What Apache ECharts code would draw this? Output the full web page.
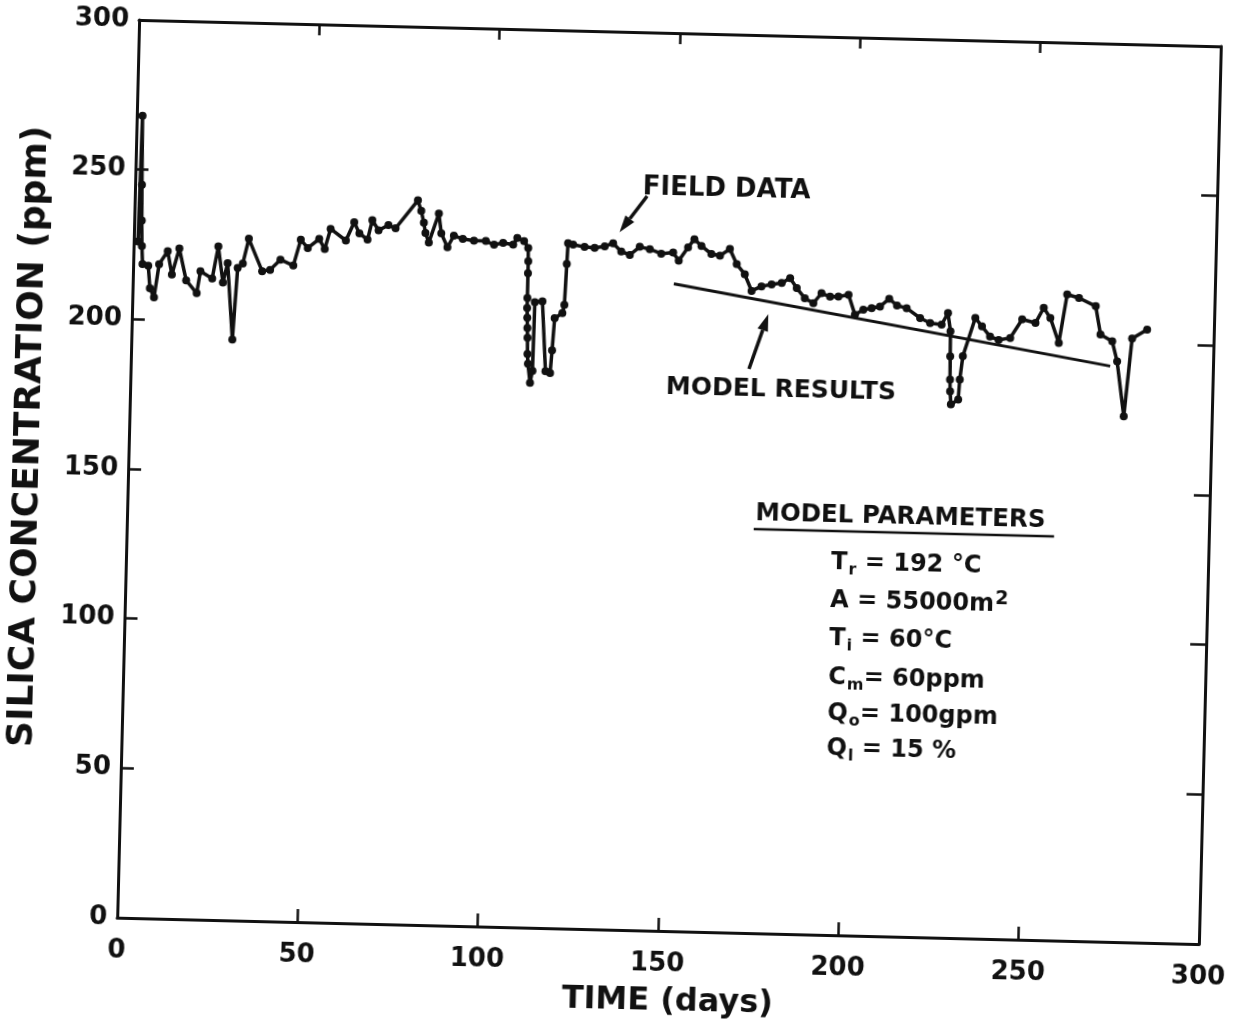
<!DOCTYPE html>
<html>
<head>
<meta charset="utf-8">
<script src="https://cdn.jsdelivr.net/npm/echarts@6/dist/echarts.min.js"></script>
<style>
  html, body { margin: 0; padding: 0; background: #fff; overflow: hidden; width: 1233px; height: 1027px; }
  #chart { width: 1300px; height: 1100px; background: #fff;
           transform: rotate(1.4deg); transform-origin: 669px 482px; }
</style>
</head>
<body>
<div id="chart"></div>
<script>
// Field measurements: time (days) and silica concentration (ppm)
const days = [
  1.2, 1.6, 1.9, 2.1, 2.3, 2.6, 4.2, 4.8, 6.0, 7.2,
  9.5, 10.8, 12.7, 14.8, 17.8, 18.7, 22.0, 23.5, 25.0, 26.2,
  28.0, 29.0, 30.4, 31.9, 35.8, 38.0, 40.8, 44.4, 46.3, 48.3,
  51.4, 53.0, 54.5, 58.8, 61.0, 62.5, 64.8, 66.0, 67.8, 70.5,
  72.5, 78.5, 79.5, 80.3, 80.8, 81.8, 84.4, 85.2, 87.0, 88.7,
  91.2, 94.3, 97.6, 99.9, 102.4, 105.2, 106.3, 108.2, 109.4, 109.5,
  109.5, 109.5, 109.5, 109.6, 109.7, 109.8, 109.9, 110.1, 110.8, 111.4,
  111.6, 113.7, 115.0, 116.3, 116.7, 117.2, 119.3, 119.8, 120.2, 120.4,
  121.8, 125.0, 127.8, 130.6, 132.9, 135.2, 137.6, 140.3, 143.1, 146.3,
  149.6, 151.2, 153.7, 155.4, 157.4, 160.2, 162.6, 165.3, 167.3, 169.6,
  171.6, 174.3, 177.1, 179.9, 182.2, 184.1, 186.4, 188.8, 191.0, 193.4,
  195.7, 198.5, 200.4, 202.7, 205.0, 207.3, 209.8, 212.0, 214.7, 218.5,
  221.3, 224.5, 226.2, 227.0, 227.1, 227.2, 227.3, 227.6, 229.6, 229.9,
  230.6, 233.8, 235.7, 238.0, 240.4, 243.6, 246.8, 250.5, 252.7, 254.6,
  257.1, 259.1, 262.4, 267.1, 268.6, 271.9, 273.4, 275.6, 277.4, 281.5
];
const silica = [
  226, 268, 245, 233, 224.5, 218.5, 218, 210.5, 207.5, 218.6,
  223, 215.2, 224, 213.4, 209.2, 216.6, 214.2, 225, 213, 219.5,
  194, 218, 219.5, 227.8, 217.1, 217.6, 221.1, 219.2, 227.9, 225.2,
  228.3, 225, 231.8, 228, 234.2, 230.5, 228.5, 235, 231.7, 233.5,
  232.5, 242, 238.5, 234.6, 231.2, 228, 237.8, 231.2, 226.6, 230.5,
  229.5, 229, 229, 227.8, 228.5, 228, 230.3, 229.3, 227, 222.6,
  218.6, 210.3, 207, 203.7, 200.3, 197, 191.6, 188.3, 182, 186,
  209, 209.3, 186, 185.4, 193, 203.8, 205.5, 208.3, 222, 228.9,
  228.5, 227.8, 227.6, 228.2, 229.3, 226.6, 225.5, 228.3, 227.6, 226.2,
  226.7, 224, 228.5, 231.3, 229.1, 226.5, 226, 228.3, 223.3, 220,
  214.5, 216.1, 216.8, 217.4, 219.1, 215.8, 212.5, 210.9, 214.3, 213.2,
  213.3, 214, 207.4, 209.1, 209.7, 210.3, 213, 210.8, 210, 206.8,
  205.2, 204.8, 208.7, 202.6, 194.3, 186.5, 182.6, 178.2, 179.9, 186.6,
  194.4, 207.3, 204.5, 201.2, 200.1, 200.9, 207.2, 206.1, 211.2, 207.9,
  199.6, 215.9, 214.8, 212.2, 202.8, 200.6, 193.9, 175.6, 201.7, 204.8
];

// Model prediction (straight decline)
const modelDays = [150, 271.5];
const modelSilica = [216.2, 192.3];

// Axis scale shared by both axes
const axisMin = 0;
const axisMax = 300;
const axisStep = 50;

const ink = '#111';
const fontFamily = 'DejaVu Sans';
const fontWeight = 'bold';

const chart = echarts.init(document.getElementById('chart'), null, { renderer: 'canvas' });

function axis(extra) {
  return Object.assign({
    type: 'value',
    min: axisMin, max: axisMax, interval: axisStep,
    axisLine: { show: true, onZero: false, lineStyle: { color: ink, width: 3 } },
    axisTick: { show: true, inside: true, length: 13, lineStyle: { color: ink, width: 2.5 } },
    splitLine: { show: false },
    axisLabel: { show: false }
  }, extra);
}

const option = {
  animation: false,
  backgroundColor: '#fff',
  grid: { left: 128, top: 33, width: 1082, height: 898, outerBoundsMode: 'none', containLabel: false },
  xAxis: [
    axis({
      position: 'bottom',
      axisLabel: { show: true, margin: 20, color: ink, fontFamily, fontWeight, fontSize: 26,
                   showMinLabel: true, showMaxLabel: true }
    }),
    axis({ position: 'top', axisTick: { show: true, inside: true, length: 11, lineStyle: { color: ink, width: 2.5 } } })
  ],
  yAxis: [
    axis({
      position: 'left',
      axisLabel: { show: true, margin: 10, color: ink, fontFamily, fontWeight, fontSize: 26,
                   showMinLabel: true, showMaxLabel: true }
    }),
    axis({ position: 'right', axisTick: { show: true, inside: true, length: 16, lineStyle: { color: ink, width: 2.5 } } })
  ],
  series: [
    {
      name: 'FIELD DATA',
      type: 'line',
      xAxisIndex: 0, yAxisIndex: 0,
      data: days.map((d, i) => [d, silica[i]]),
      symbol: 'circle',
      symbolSize: 8,
      showSymbol: true,
      lineStyle: { color: ink, width: 3.5 },
      itemStyle: { color: ink },
      z: 4
    },
    {
      name: 'MODEL RESULTS',
      type: 'line',
      xAxisIndex: 0, yAxisIndex: 0,
      data: modelDays.map((d, i) => [d, modelSilica[i]]),
      symbol: 'none',
      lineStyle: { color: ink, width: 3 },
      z: 3
    }
  ]
};

chart.setOption(option);

// Annotations placed in data units (days, ppm)
const px = p => chart.convertToPixel({ seriesIndex: 0 }, p);

function arrow(from, to) {
  const a = px(from), b = px(to);
  const dx = b[0] - a[0], dy = b[1] - a[1];
  const L = Math.hypot(dx, dy), ux = dx / L, uy = dy / L;
  const hl = 17, hw = 5.5;
  const base = [b[0] - ux * hl, b[1] - uy * hl];
  return [
    { type: 'line', shape: { x1: a[0], y1: a[1], x2: base[0], y2: base[1] },
      style: { stroke: ink, lineWidth: 3.5 } },
    { type: 'polygon',
      shape: { points: [b, [base[0] - uy * hw, base[1] + ux * hw], [base[0] + uy * hw, base[1] - ux * hw]] },
      style: { fill: ink } }
  ];
}

function label(at, text, size) {
  const p = px(at);
  return { type: 'text', x: p[0], y: p[1],
           style: { text, fill: ink, fontFamily, fontWeight, fontSize: size, align: 'left', verticalAlign: 'middle' } };
}

const paramStyles = {
  m: { fontFamily, fontWeight, fontSize: 24, fill: ink },
  s: { fontFamily, fontWeight, fontSize: 16, fill: ink, padding: [13, 0, 0, 1] },
  p: { fontFamily, fontWeight, fontSize: 19, fill: ink, padding: [0, 0, 12, 1] }
};
const paramRows = [
  '{m|T}{s|r}{m| = 192 °C}',
  '{m|A = 55000m}{p|2}',
  '{m|T}{s|i}{m| = 60°C}',
  '{m|C}{s|m}{m|= 60ppm}',
  '{m|Q}{s|o}{m|= 100gpm}',
  '{m|Q}{s|l}{m| = 15 %}'
];
const paramLevels = [124.3, 111.6, 98.9, 85.8, 73.8, 62.1];

const elements = [];
elements.push(label([140.7, 248.3], 'FIELD DATA', 26));
elements.push(...arrow([142, 245.3], [134.6, 233]));
elements.push(label([148.5, 181.5], 'MODEL RESULTS', 25));
elements.push(...arrow([171.4, 188.4], [176.4, 206.9]));
elements.push(label([174.2, 140.2], 'MODEL PARAMETERS', 24.5));
{
  const a = px([173.8, 135]), b = px([257.1, 135]);
  elements.push({ type: 'line', shape: { x1: a[0], y1: a[1], x2: b[0], y2: b[1] },
                  style: { stroke: ink, lineWidth: 2.5 } });
}
paramRows.forEach((row, i) => {
  const p = px([195.5, paramLevels[i]]);
  elements.push({ type: 'text', x: p[0], y: p[1],
                  style: { text: row, rich: paramStyles, align: 'left', verticalAlign: 'middle' } });
});

// Axis titles
elements.push({ type: 'text', x: 29, y: 452, rotation: Math.PI / 2,
                style: { text: 'SILICA CONCENTRATION (ppm)', fill: ink, fontFamily, fontWeight, fontSize: 36,
                         align: 'center', verticalAlign: 'middle' } });
elements.push({ type: 'text', x: 680, y: 1002,
                style: { text: 'TIME (days)', fill: ink, fontFamily, fontWeight, fontSize: 32,
                         align: 'center', verticalAlign: 'middle' } });

chart.setOption({ graphic: { elements } });
</script>
</body>
</html>
